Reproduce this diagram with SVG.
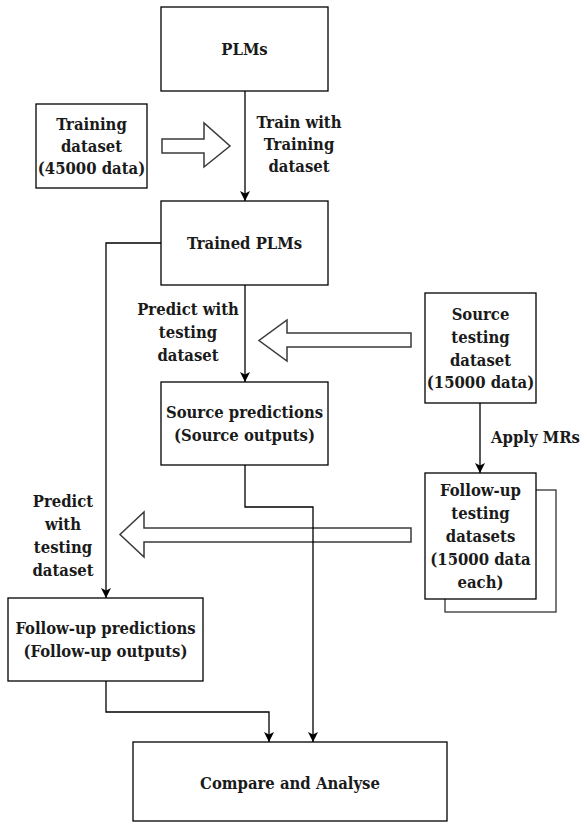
<svg xmlns="http://www.w3.org/2000/svg" width="587" height="826" viewBox="0 0 587 826">
<defs>
<style>
.box{fill:#fff;stroke:#000;stroke-width:1.3}
.shadow{fill:#fff;stroke:#333;stroke-width:1.3}
.t,.tl{font-family:'DejaVu Serif Condensed','DejaVu Serif',serif;font-stretch:condensed;font-weight:bold;font-size:16.5px;fill:#1a1a1a}
.t{text-anchor:middle}
.tl{text-anchor:start}
.c{fill:none;stroke:#000;stroke-width:1.3}
.hollow{fill:#fff;stroke:#3a3a3a;stroke-width:1.5}
</style>
<marker id="arr" viewBox="0 0 10 10" refX="10" refY="5" markerWidth="10" markerHeight="10" markerUnits="userSpaceOnUse" orient="auto">
<path d="M0,0 L10,5 L0,10 L2.5,5 z" fill="#000"/>
</marker>
</defs>
<rect width="587" height="826" fill="#fff"/>

<g id="block-arrows">
<polygon class="hollow" points="162,139 204,139 204,123 230,146 204,167 204,153 162,153"/>
<polygon class="hollow" points="411,333 287,333 287,320 259,340.5 287,361 287,347 411,347"/>
<polygon class="hollow" points="411,528 144,528 144,512 120,534.5 144,557 144,542 411,542"/>
</g>

<g id="node-plms">
<rect class="box" x="161" y="7" width="167" height="84"/>
<text class="t" x="244.5" y="55">PLMs</text>
</g>

<g id="node-training">
<rect class="box" x="36" y="104" width="111" height="84"/>
<text class="t" x="91.5" y="130">Training</text>
<text class="t" x="91.5" y="152">dataset</text>
<text class="t" x="91.5" y="174">(45000 data)</text>
</g>

<g id="node-trained">
<rect class="box" x="161" y="201" width="167" height="84"/>
<text class="t" x="244.5" y="249">Trained PLMs</text>
</g>

<g id="node-source-testing">
<rect class="box" x="425" y="293" width="111" height="110"/>
<text class="t" x="480.5" y="320">Source</text>
<text class="t" x="480.5" y="343">testing</text>
<text class="t" x="480.5" y="365.5">dataset</text>
<text class="t" x="480.5" y="388">(15000 data)</text>
</g>

<g id="node-source-predictions">
<rect class="box" x="161" y="382" width="167" height="83"/>
<text class="t" x="244.5" y="418">Source predictions</text>
<text class="t" x="244.5" y="441">(Source outputs)</text>
</g>

<g id="node-followup-testing">
<rect class="shadow" x="445" y="490" width="111" height="122"/>
<rect class="box" x="425" y="473" width="111" height="126"/>
<text class="t" x="480.5" y="496">Follow-up</text>
<text class="t" x="480.5" y="519">testing</text>
<text class="t" x="480.5" y="542">datasets</text>
<text class="t" x="480.5" y="565">(15000 data</text>
<text class="t" x="480.5" y="588">each)</text>
</g>

<g id="node-followup-predictions">
<rect class="box" x="8" y="598" width="195" height="83"/>
<text class="t" x="105.5" y="634">Follow-up predictions</text>
<text class="t" x="105.5" y="657">(Follow-up outputs)</text>
</g>

<g id="node-compare">
<rect class="box" x="133" y="742" width="314" height="79"/>
<text class="t" x="290" y="789">Compare and Analyse</text>
</g>

<g id="connectors">
<path class="c" d="M245,91 V201" marker-end="url(#arr)"/>
<path class="c" d="M245,285 V382" marker-end="url(#arr)"/>
<path class="c" d="M161,243 H106 V598" marker-end="url(#arr)"/>
<path class="c" d="M245,465 V507 H313 V742" marker-end="url(#arr)"/>
<path class="c" d="M106,681 V712 H269 V742" marker-end="url(#arr)"/>
<path class="c" d="M480,403 V473" marker-end="url(#arr)"/>
</g>

<g id="labels">
<text class="t" x="299" y="128">Train with</text>
<text class="t" x="299" y="150">Training</text>
<text class="t" x="299" y="172">dataset</text>
<text class="t" x="188" y="315">Predict with</text>
<text class="t" x="188" y="338">testing</text>
<text class="t" x="188" y="361">dataset</text>
<text class="tl" x="491" y="443">Apply MRs</text>
<text class="t" x="63" y="507">Predict</text>
<text class="t" x="63" y="530">with</text>
<text class="t" x="63" y="553">testing</text>
<text class="t" x="63" y="576">dataset</text>
</g>
</svg>
